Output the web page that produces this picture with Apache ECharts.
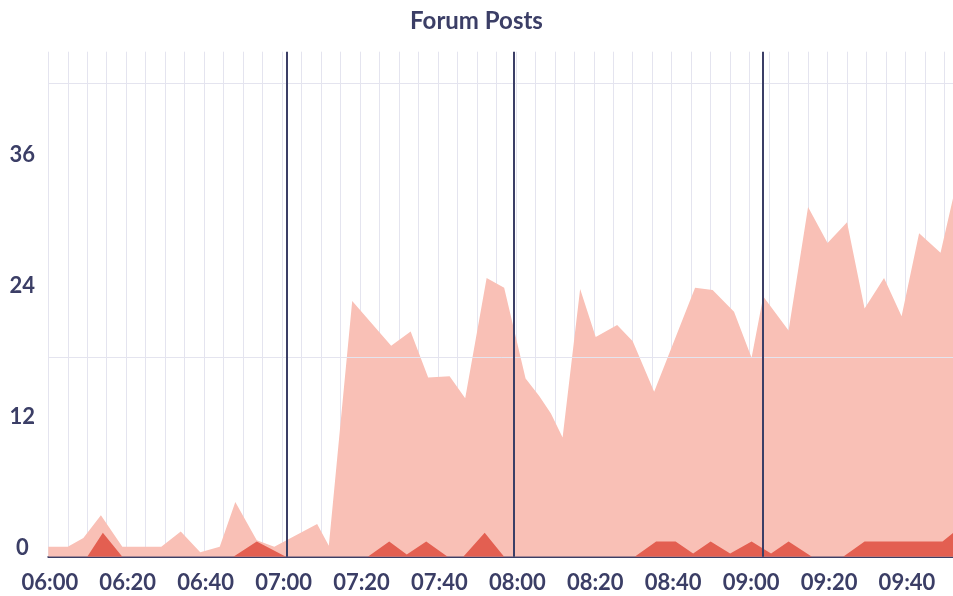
<!DOCTYPE html>
<html>
<head>
<meta charset="utf-8">
<script src="https://cdn.jsdelivr.net/npm/echarts@6/dist/echarts.min.js"></script>
<style>
  html, body { margin: 0; padding: 0; background: #fff; }
  #chart { width: 953px; height: 596px; }
</style>
</head>
<body>
<div id="chart"></div>
<script>
// Total posts (light area)
const postTimes = ['06:00', '06:05', '06:09', '06:13:30', '06:19', '06:29', '06:34', '06:39', '06:44', '06:48',
  '06:53:30', '06:58', '07:09', '07:12', '07:18', '07:28', '07:33', '07:37:30', '07:43', '07:47',
  '07:52:30', '07:57', '08:02:30', '08:06', '08:09', '08:12', '08:16:30', '08:20:30', '08:26', '08:30',
  '08:35:30', '08:46', '08:50:30', '08:56', '09:00:30', '09:03:30', '09:10', '09:15', '09:20', '09:25',
  '09:29:30', '09:34:30', '09:39', '09:43:30', '09:49', '09:52:20'];
const postValues = [0.9, 0.9, 1.7, 3.8, 0.9, 0.9, 2.3, 0.4, 0.9, 5.0,
  1.5, 0.9, 3.0, 1.0, 23.4, 19.3, 20.6, 16.4, 16.5, 14.5,
  25.5, 24.6, 16.3, 14.7, 13.1, 10.9, 24.5, 20.1, 21.2, 19.7,
  15.1, 24.6, 24.4, 22.4, 18.2, 23.8, 20.7, 32.0, 28.7, 30.6,
  22.7, 25.5, 22.0, 29.6, 27.8, 33.0];

// Second series (dark area)
const flagTimes = ['06:00', '06:10', '06:14', '06:19', '06:47:30', '06:53:30', '07:01', '07:22', '07:27:30', '07:32',
  '07:37', '07:42:30', '07:46:30', '07:52', '07:57', '08:30:30', '08:36', '08:41', '08:45:30', '08:50',
  '08:55', '09:00:30', '09:05:30', '09:10', '09:16', '09:24', '09:29:30', '09:49:30', '09:52:20'];
const flagValues = [0, 0, 2.2, 0, 0, 1.4, 0, 0, 1.4, 0.2,
  1.4, 0, 0, 2.2, 0, 0, 1.4, 1.4, 0.3, 1.4,
  0.3, 1.4, 0.3, 1.4, 0, 0, 1.4, 1.4, 2.2];

// Dark vertical markers
const eventTimes = ['07:01:18', '07:59:24', '09:03:18'];
// Horizontal guide lines
const guideValues = [18.24, 43.3];

const navy = '#3b3e66';
const gridColor = '#e4e4ef';

// minutes since 06:00
function toMin(s) {
  const p = s.split(':').map(Number);
  return (p[0] - 6) * 60 + p[1] + (p[2] || 0) / 60;
}
function fmt(m) {
  const h = 6 + Math.floor(m / 60);
  const mm = Math.round(m % 60);
  return String(h).padStart(2, '0') + ':' + String(mm).padStart(2, '0');
}

const chart = echarts.init(document.getElementById('chart'));

chart.setOption({
  animation: false,
  textStyle: { fontFamily: 'Lato' },
  title: {
    text: 'Forum Posts',
    left: 'center',
    top: 4,
    textStyle: { fontFamily: 'Lato', fontWeight: 'bold', fontSize: 24, color: navy }
  },
  // plot runs past the right edge (cropped like the original)
  grid: { left: 48.3, top: 51.7, bottom: 39.3, right: -30.4, outerBoundsMode: 'none', containLabel: false },
  xAxis: {
    type: 'value',
    min: 0,
    max: 240,
    interval: 20,
    axisLine: { show: true, lineStyle: { color: navy, width: 2 } },
    axisTick: { show: false },
    minorTick: { show: false, splitNumber: 4 },
    splitLine: { show: true, lineStyle: { color: gridColor, width: 1 } },
    minorSplitLine: { show: true, lineStyle: { color: gridColor, width: 1 } },
    axisLabel: {
      margin: 15,
      fontSize: 22,
      fontWeight: 'bold',
      color: navy,
      padding: [0, 0, 0, 3],
      formatter: v => fmt(v)
    }
  },
  yAxis: {
    type: 'value',
    min: 0,
    max: 46.2,
    interval: 12,
    axisLine: { show: false },
    axisTick: { show: false },
    splitLine: { show: false },
    axisLabel: {
      showMaxLabel: false,
      margin: 26,
      align: 'center',
      verticalAlign: 'bottom',
      lineHeight: 17,
      fontSize: 22,
      fontWeight: 'bold',
      color: navy
    }
  },
  series: [
    {
      type: 'line',
      z: 1,
      data: [],
      markLine: {
        silent: true,
        symbol: 'none',
        label: { show: false },
        lineStyle: { color: gridColor, width: 1, type: 'solid' },
        data: guideValues.map(v => ({ yAxis: v }))
      }
    },
    {
      name: 'Posts',
      type: 'line',
      z: 2,
      showSymbol: false,
      lineStyle: { width: 0 },
      areaStyle: { color: '#f9c0b6', opacity: 1 },
      data: postTimes.map((t, i) => [toMin(t), postValues[i]])
    },
    {
      name: 'Flagged',
      type: 'line',
      z: 3,
      showSymbol: false,
      lineStyle: { width: 0 },
      areaStyle: { color: '#e35f51', opacity: 1 },
      data: flagTimes.map((t, i) => [toMin(t), flagValues[i]]),
      markLine: {
        silent: true,
        symbol: 'none',
        label: { show: false },
        lineStyle: { color: navy, width: 2, type: 'solid' },
        data: eventTimes.map(t => ({ xAxis: toMin(t) }))
      }
    }
  ]
});
</script>
</body>
</html>
